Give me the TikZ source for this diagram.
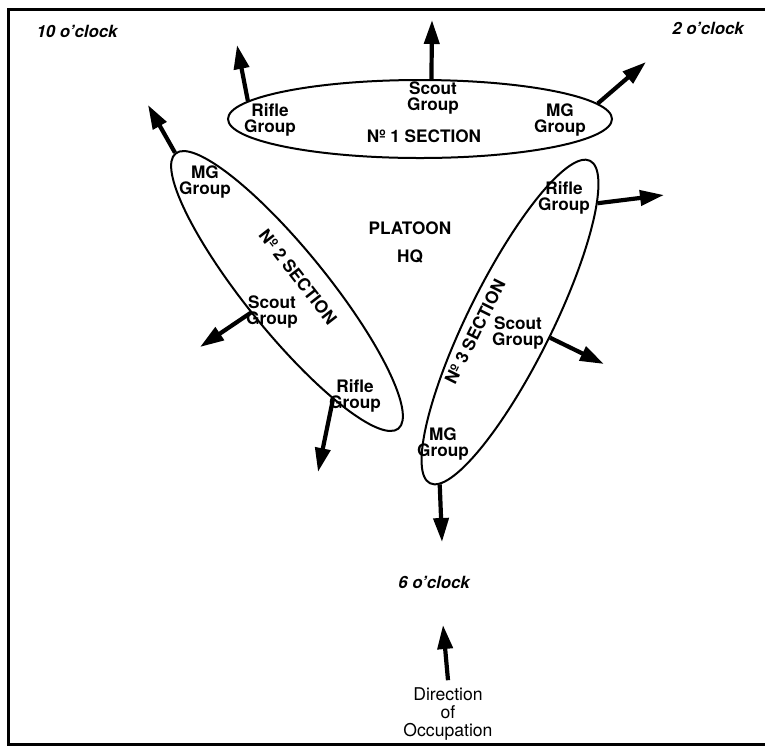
\documentclass[tikz,border=0pt]{standalone}
\usepackage{fontspec}
\setmainfont{TeX Gyre Heros}
\usetikzlibrary{arrows.meta,shapes.geometric}

\begin{document}
\begin{tikzpicture}[x=0.5pt,y=-0.5pt,
  section/.style={draw, ellipse, line width=1pt, inner sep=0pt},
  grp/.style={font=\fontsize{8.6}{8}\selectfont\bfseries, align=center, inner sep=1pt},
  title/.style={font=\fontsize{8.6}{9}\selectfont\bfseries},
  clock/.style={font=\fontsize{8.4}{9}\selectfont\bfseries\itshape},
  fire/.style={line width=2.1pt, -{Triangle[length=12pt,width=7.5pt]}}]
  \useasboundingbox (0,0) rectangle (765,746);
  \draw[line width=1.5pt] (765,9) -- (8,9) -- (8,744) -- (765,744);

  \node[clock] (TEN) at (77,31) {10 o'clock};
  \node[clock] (TWO) at (708,28) {2 o'clock};
  \node[clock] (SIX) at (434,582) {6 o'clock};

  \node[section, minimum width=192pt, minimum height=39pt] (SEC1) at (420,119) {};
  \node[section, minimum width=177pt, minimum height=41pt, rotate=-51] (SEC2) at (287,291) {};
  \node[section, minimum width=180pt, minimum height=42pt, rotate=63.6] (SEC3) at (510,322) {};

  \node[grp] (RIF1) at (270,120) {Rifle\\Group};
  \node[grp] (SCO1) at (433,98) {Scout\\Group};
  \node[grp] (MG1) at (560,120) {MG\\Group};
  \node[title] (NO1) at (424,136) {Nº 1 SECTION};

  \node[grp] (MG2) at (205,182) {MG\\Group};
  \node[grp] (SCO2) at (272,312) {Scout\\Group};
  \node[grp] (RIF2) at (355,396) {Rifle\\Group};
  \node[title, rotate=-52] (NO2) at (298,277) {Nº 2 SECTION};

  \node[grp] (RIF3) at (564,198) {Rifle\\Group};
  \node[grp] (SCO3) at (518,333) {Scout\\Group};
  \node[grp] (MG3) at (443,444) {MG\\Group};
  \node[title, rotate=63.6] (NO3) at (475,332) {Nº 3 SECTION};

  \node[title] (PLT) at (410,228) {PLATOON};
  \node[title] (HQ) at (410,256) {HQ};

  \node[font=\fontsize{8.8}{9.2}\selectfont, align=center] (DIR) at (448,714) {Direction\\of\\Occupation};

  \coordinate (RIF1tip) at (237,45);
  \coordinate (SCO1tip) at (432,20);
  \coordinate (MG1tip) at (646,62);
  \coordinate (MG2tip) at (148,105);
  \coordinate (SCO2tip) at (200,347);
  \coordinate (RIF2tip) at (318,472);
  \coordinate (RIF3tip) at (664,195);
  \coordinate (SCO3tip) at (604,364);
  \coordinate (MG3tip) at (442,542);
  \coordinate (DIRtip) at (443,625);

  \draw[fire] (SEC1.174) -- (RIF1tip);
  \draw[fire] (SEC1.74) -- (SCO1tip);
  \draw[fire] (SEC1.5) -- (MG1tip);
  \draw[fire] (SEC2.180) -- (MG2tip);
  \draw[fire] (SEC2.262) -- (SCO2tip);
  \draw[fire] (SEC2.-16) -- (RIF2tip);
  \draw[fire] (SEC3.-10) -- (RIF3tip);
  \draw[fire] (SEC3.-85) -- (SCO3tip);
  \draw[fire] (SEC3.183) -- (MG3tip);
  \draw[fire] (DIR.north) -- (DIRtip);
\end{tikzpicture}
\end{document}
